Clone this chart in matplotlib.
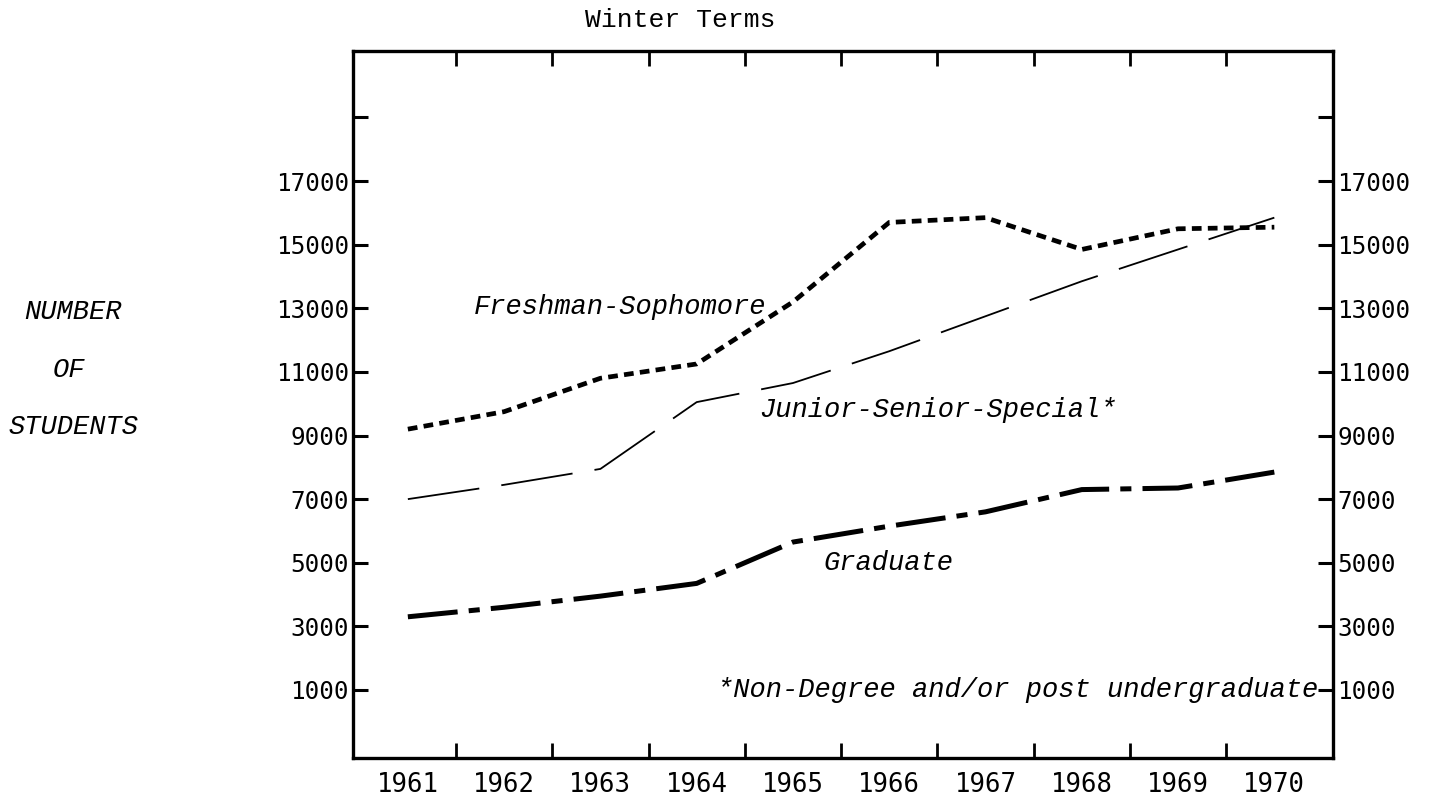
import numpy as np
import matplotlib
matplotlib.use('Agg')
import matplotlib.pyplot as plt

plt.rcParams['lines.scale_dashes'] = False

years = [1961, 1962, 1963, 1964, 1965, 1966, 1967, 1968, 1969, 1970]
freshman_soph = [9200, 9750, 10800, 11250, 13200, 15700, 15850, 14850, 15500, 15550]
junior_senior = [7000, 7450, 7950, 10050, 10650, 11650, 12750, 13850, 14850, 15850]
graduate = [3300, 3600, 3950, 4350, 5650, 6150, 6600, 7300, 7350, 7850]
ytick_vals = [1000, 3000, 5000, 7000, 9000, 11000, 13000, 15000, 17000, 19000]
ytick_labels = ['1000', '3000', '5000', '7000', '9000', '11000', '13000', '15000', '17000', '']

fig = plt.figure(figsize=(14.32, 7.98), dpi=100)
ax = fig.add_axes([0.2465, 0.0501, 0.6844, 0.886])

ax.plot(years, freshman_soph, color='black', lw=3.4, dashes=(7, 4.5))
ax.plot(years, junior_senior, color='black', lw=1.3, dashes=(52, 16))
ax.plot(years, graduate, color='black', lw=3.6, dashes=(36, 8, 8, 8))

ax.set_xlim(1960.43, 1970.61)
ax.set_ylim(-1140, 21090)

# year labels without marks, marks sit between years
ax.set_xticks(years)
ax.set_xticklabels([str(y) for y in years], family='DejaVu Sans Mono', fontsize=18.5)
ax.tick_params(axis='x', which='major', length=0, pad=10)
ax.set_xticks(np.array(years[:-1]) + 0.5, minor=True)
ax.tick_params(axis='x', which='minor', direction='in', length=11, width=2,
               top=True, bottom=True)

ax.set_yticks(ytick_vals)
ax.set_yticklabels(ytick_labels, family='DejaVu Sans Mono', fontsize=17.5)
ax.tick_params(axis='y', direction='in', length=11, width=2.2, left=True, right=True,
               labelleft=True, labelright=True, pad=3)

for s in ax.spines.values():
    s.set_linewidth(2.4)

mono_it = dict(family='Liberation Mono', style='italic', fontsize=19.5)
ax.text(1963.2, 13050, 'Freshman-Sophomore', ha='center', va='center', **mono_it)
ax.text(1966.51, 9800, 'Junior-Senior-Special*', ha='center', va='center', **mono_it)
ax.text(1965.99, 5000, 'Graduate', ha='center', va='center', **mono_it)
ax.text(1970.46, 1000, '*Non-Degree and/or post undergraduate', ha='right', va='center', **mono_it)

fig.text(0.475, 0.975, 'Winter Terms', ha='center', va='center',
         family='Liberation Mono', fontsize=19)
fig.text(0.051, 0.609, 'NUMBER', ha='center', va='center', **mono_it)
fig.text(0.048, 0.536, 'OF', ha='center', va='center', **mono_it)
fig.text(0.051, 0.465, 'STUDENTS', ha='center', va='center', **mono_it)

fig.savefig('out.png', dpi=100)
